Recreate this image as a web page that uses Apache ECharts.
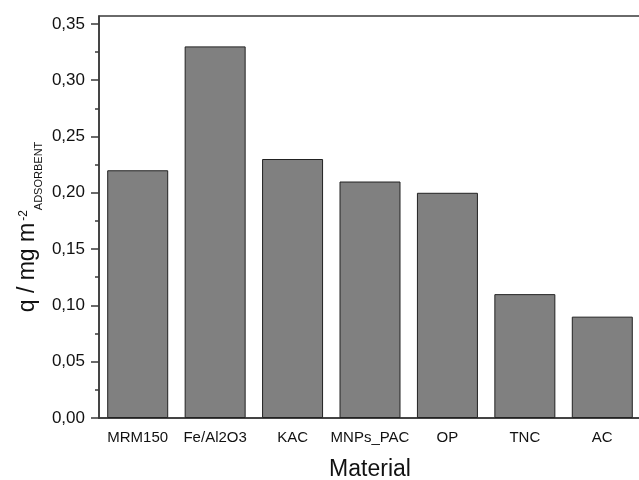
<!DOCTYPE html>
<html><head><meta charset="utf-8">
<script src="https://cdn.jsdelivr.net/npm/echarts@6/dist/echarts.min.js"></script>
<style>html,body{margin:0;padding:0;background:#fff}#c{width:639px;height:480px}</style>
</head><body><div id="c"></div>
<script>
const categories = ['MRM150', 'Fe/Al2O3', 'KAC', 'MNPs_PAC', 'OP', 'TNC', 'AC'];
const values = [0.22, 0.33, 0.23, 0.21, 0.20, 0.11, 0.09];
const majorTicks = [0, 0.05, 0.10, 0.15, 0.20, 0.25, 0.30, 0.35];
const minorTicks = [0.025, 0.075, 0.125, 0.175, 0.225, 0.275, 0.325];
const yMax = 0.357;

const axisColor = '#3a3a3a';
const fontFam = 'Liberation Sans, Arial, sans-serif';
const chart = echarts.init(document.getElementById('c'));
chart.setOption({
  animation: false,
  grid: { left: 99, top: 16, width: 542, bottom: 62, show: true, borderColor: axisColor, borderWidth: 1.5, outerBoundsMode: 'none', containLabel: false },
  xAxis: {
    type: 'category', data: categories,
    axisLine: { lineStyle: { color: axisColor, width: 1.5 } },
    axisTick: { alignWithLabel: true, interval: 0, length: 8, lineStyle: { color: axisColor, width: 1.5 } },
    axisLabel: { interval: 0, color: '#111', fontSize: 15, fontFamily: fontFam, margin: 12 },
    name: 'Material', nameLocation: 'middle', nameGap: 40, nameMoveOverlap: false,
    nameTextStyle: { color: '#111', fontSize: 23, fontFamily: fontFam }
  },
  yAxis: [{
    type: 'value', min: 0, max: yMax,
    splitLine: { show: false },
    axisLine: { show: true, lineStyle: { color: axisColor, width: 1.5 } },
    axisTick: { show: true, length: 8, customValues: majorTicks, lineStyle: { color: axisColor, width: 1.5 } },
    axisLabel: { customValues: majorTicks, color: '#111', fontSize: 17, fontFamily: fontFam, margin: 14,
      formatter: v => v.toFixed(2).replace('.', ',') },
    name: '{m|q / mg m}{sup|-2}{sub|ADSORBENT}', nameLocation: 'middle', nameRotate: 90, nameGap: 51,
    nameMoveOverlap: false,
    nameTextStyle: {
      fontFamily: fontFam, color: '#111', padding: [0, 20, 0, 0],
      rich: {
        m: { fontSize: 23, fontFamily: fontFam, color: '#111', lineHeight: 40, verticalAlign: 'middle' },
        sup: { fontSize: 12, fontFamily: fontFam, color: '#111', verticalAlign: 'middle', padding: [0, 0, 8, 2] },
        sub: { fontSize: 11, fontFamily: fontFam, color: '#111', verticalAlign: 'middle', padding: [21, 0, 0, 0] }
      }
    }
  }, {
    type: 'value', min: 0, max: yMax, position: 'left',
    splitLine: { show: false },
    axisLine: { show: false },
    axisLabel: { show: false },
    axisTick: { show: true, length: 4, customValues: minorTicks, lineStyle: { color: axisColor, width: 1.5 } }
  }],
  series: [{
    type: 'bar', data: values, yAxisIndex: 0, barWidth: 61,
    itemStyle: { color: '#808080', borderColor: '#222', borderWidth: 1 }
  }]
});
</script></body></html>
